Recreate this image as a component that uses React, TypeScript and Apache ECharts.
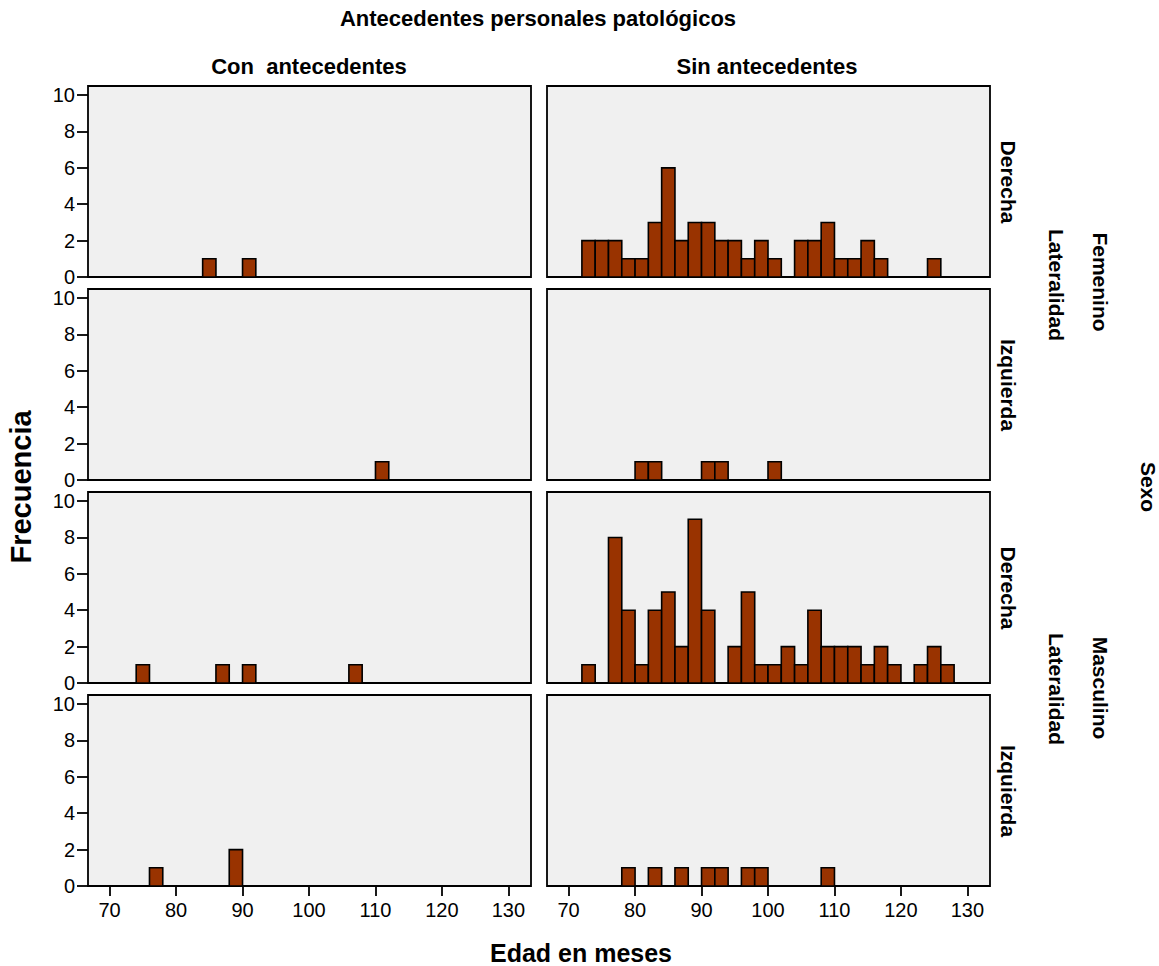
import React, { useEffect, useRef } from "react";
import * as echarts from "echarts";

// ---- Data (bin start ages in months, bin width 2) ----
const BIN_WIDTH = 2;
const xTicks = [70, 80, 90, 100, 110, 120, 130];
const yTicks = [0, 2, 4, 6, 8, 10];

const colHeaders = ["Con  antecedentes", "Sin antecedentes"];
const rowLabels = ["Derecha", "Izquierda", "Derecha", "Izquierda"];
const sexLabels = ["Femenino", "Masculino"];

// Femenino / Derecha
const femDerConAges = [84, 90];
const femDerConCounts = [1, 1];
const femDerSinAges = [72, 74, 76, 78, 80, 82, 84, 86, 88, 90, 92, 94, 96, 98, 100, 104, 106, 108, 110, 112, 114, 116, 124];
const femDerSinCounts = [2, 2, 2, 1, 1, 3, 6, 2, 3, 3, 2, 2, 1, 2, 1, 2, 2, 3, 1, 1, 2, 1, 1];
// Femenino / Izquierda
const femIzqConAges = [110];
const femIzqConCounts = [1];
const femIzqSinAges = [80, 82, 90, 92, 100];
const femIzqSinCounts = [1, 1, 1, 1, 1];
// Masculino / Derecha
const mascDerConAges = [74, 86, 90, 106];
const mascDerConCounts = [1, 1, 1, 1];
const mascDerSinAges = [72, 76, 78, 80, 82, 84, 86, 88, 90, 94, 96, 98, 100, 102, 104, 106, 108, 110, 112, 114, 116, 118, 122, 124, 126];
const mascDerSinCounts = [1, 8, 4, 1, 4, 5, 2, 9, 4, 2, 5, 1, 1, 2, 1, 4, 2, 2, 2, 1, 2, 1, 1, 2, 1];
// Masculino / Izquierda
const mascIzqConAges = [76, 88];
const mascIzqConCounts = [1, 2];
const mascIzqSinAges = [78, 82, 86, 90, 92, 96, 98, 108];
const mascIzqSinCounts = [1, 1, 1, 1, 1, 1, 1, 1];

const panels = [
  [femDerConAges, femDerConCounts, femDerSinAges, femDerSinCounts],
  [femIzqConAges, femIzqConCounts, femIzqSinAges, femIzqSinCounts],
  [mascDerConAges, mascDerConCounts, mascDerSinAges, mascDerSinCounts],
  [mascIzqConAges, mascIzqConCounts, mascIzqSinAges, mascIzqSinCounts],
];

const FONT = "'Liberation Sans', Arial, sans-serif";

export default function App() {
  const ref = useRef<HTMLDivElement>(null);
  useEffect(() => {
    if (!ref.current) return;
    const chart = echarts.init(ref.current, null, { renderer: "svg" });

    const colLeft = [88, 547];
    const colWidth = 443;
    const rowTop = [86, 289, 492, 695];
    const rowHeight = 191;

    const grids: any[] = [];
    const xAxes: any[] = [];
    const yAxes: any[] = [];
    const series: any[] = [];

    for (let r = 0; r < 4; r++) {
      for (let c = 0; c < 2; c++) {
        const idx = grids.length;
        const ages = panels[r][c * 2] as number[];
        const counts = panels[r][c * 2 + 1] as number[];
        const isBottom = r === 3;
        const isLeft = c === 0;
        grids.push({
          left: colLeft[c],
          top: rowTop[r],
          width: colWidth,
          height: rowHeight,
          show: true,
          backgroundColor: "#f0f0f0",
          borderColor: "#000",
          borderWidth: 1.8,
          containLabel: false,
        });
        xAxes.push({
          type: "value",
          gridIndex: idx,
          min: 66.75,
          max: 133.4,
          splitLine: { show: false },
          axisLine: { show: false },
          axisTick: {
            show: isBottom,
            length: 10,
            customValues: xTicks,
            lineStyle: { color: "#000", width: 1.8 },
          },
          axisLabel: {
            show: isBottom,
            customValues: xTicks,
            fontSize: 20,
            fontFamily: FONT,
            color: "#000",
            margin: 14,
          },
        });
        yAxes.push({
          type: "value",
          gridIndex: idx,
          min: 0,
          max: 10.5,
          splitLine: { show: false },
          axisLine: { show: false },
          axisTick: {
            show: isLeft,
            length: 11,
            customValues: yTicks,
            lineStyle: { color: "#000", width: 1.8 },
          },
          axisLabel: {
            show: isLeft,
            customValues: yTicks,
            fontSize: 20,
            fontFamily: FONT,
            color: "#000",
            margin: 13,
          },
        });
        series.push({
          type: "custom",
          xAxisIndex: idx,
          yAxisIndex: idx,
          data: ages.map((a, i) => [a, counts[i]]),
          encode: { x: 0, y: 1 },
          renderItem: (params: any, api: any) => {
            const start = api.value(0);
            const count = api.value(1);
            const p0 = api.coord([start, 0]);
            const p1 = api.coord([start + BIN_WIDTH, count]);
            return {
              type: "rect",
              shape: { x: p0[0], y: p1[1], width: p1[0] - p0[0], height: p0[1] - p1[1] },
              style: { fill: "#993300", stroke: "#000", lineWidth: 1.6 },
            };
          },
        });
      }
    }

    const boldText = (text: string, x: number, y: number, size: number, rotation = 0) => ({
      type: "text",
      x,
      y,
      rotation,
      style: {
        text,
        font: `bold ${size}px ${FONT}`,
        fill: "#000",
        textAlign: "center",
        textVerticalAlign: "middle",
      },
    });

    const graphics: any[] = [
      boldText("Antecedentes personales patológicos", 538, 18, 22),
      boldText(colHeaders[0], 309, 66, 22),
      boldText(colHeaders[1], 767, 66, 22),
      boldText("Frecuencia", 21, 487, 29, Math.PI / 2),
      boldText("Edad en meses", 581, 953, 25),
      boldText(rowLabels[0], 1008, 182, 21, -Math.PI / 2),
      boldText(rowLabels[1], 1008, 385, 21, -Math.PI / 2),
      boldText(rowLabels[2], 1008, 588, 21, -Math.PI / 2),
      boldText(rowLabels[3], 1008, 791, 21, -Math.PI / 2),
      boldText("Lateralidad", 1056, 285, 21, -Math.PI / 2),
      boldText(sexLabels[0], 1100, 282, 21, -Math.PI / 2),
      boldText("Lateralidad", 1056, 689, 21, -Math.PI / 2),
      boldText(sexLabels[1], 1100, 688, 21, -Math.PI / 2),
      boldText("Sexo", 1148, 487, 21, -Math.PI / 2),
    ];

    chart.setOption({
      animation: false,
      backgroundColor: "#fff",
      grid: grids,
      xAxis: xAxes,
      yAxis: yAxes,
      series,
      graphic: graphics,
    });
    return () => chart.dispose();
  }, []);
  return (
    <div
      ref={ref}
      style={{ position: "fixed", left: 0, top: 0, width: 1159, height: 966 }}
    />
  );
}
